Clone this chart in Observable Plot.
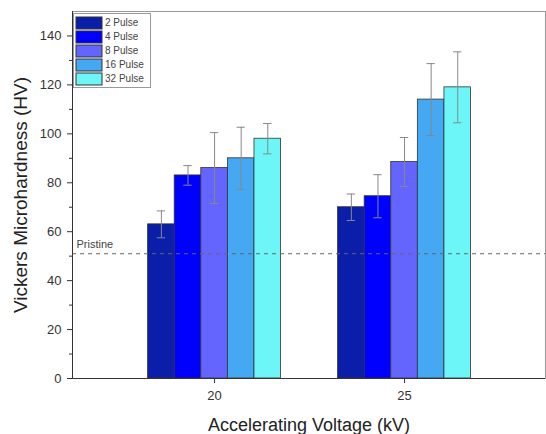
<!DOCTYPE html>
<html>
<head>
<meta charset="utf-8">
<script src="https://cdn.jsdelivr.net/npm/d3@7"></script>
<script src="https://cdn.jsdelivr.net/npm/@observablehq/plot@0.6"></script>
<style>
  html, body { margin: 0; padding: 0; background: white; }
  #wrap { position: relative; width: 546px; height: 434px; }
  #legend { position: absolute; left: 73px; top: 13px; width: 72px; background: white; border: 1px solid #999; padding: 2px 2px 1px 2px; }
  #legend .leg-swatches { margin: 0 !important; font-family: 'Liberation Sans', Arial, sans-serif !important; font-size: 10px !important; color: #444 !important; }
  #legend .leg-swatch { margin: 0 !important; padding: 0 0 1px 0 !important; line-height: 12px !important; height: 13px; display: flex; align-items: center; }
  #legend .leg-swatch svg { margin-right: 3px !important; }
  #legend .leg-swatch svg rect { stroke: #333; stroke-width: 1; }
</style>
</head>
<body>
<div id="wrap"></div>
<script>
const voltages = [20, 25];
const pulses = ["2 Pulse", "4 Pulse", "8 Pulse", "16 Pulse", "32 Pulse"];
const hv20 = [63, 83, 86, 90, 98];
const err20 = [5.5, 4, 14.5, 12.7, 6.2];
const hv25 = [70, 74.5, 88.5, 114, 119];
const err25 = [5.4, 8.8, 10, 14.7, 14.5];
const pristine = 51;
const colors = ["#0a1eaa", "#0000ff", "#6464ff", "#44a8f2", "#6cf6f8"];
const yTicks = [0, 20, 40, 60, 80, 100, 120, 140];
const yMinor = [10, 30, 50, 70, 90, 110, 130];

// grouped-bar layout (in kV units along the x axis)
const barW = 0.7;
const capHalf = 0.11;
const n = pulses.length;

const hvs = [hv20, hv25];
const errs = [err20, err25];
const rows = voltages.flatMap((v, i) => pulses.map((p, j) => {
  const c = v + (j - (n - 1) / 2) * barW;
  return {voltage: v, pulse: p, hv: hvs[i][j], err: errs[i][j], x1: c - barW / 2, x2: c + barW / 2, xc: c};
}));

const chart = Plot.plot({
  width: 546, height: 434,
  marginLeft: 72, marginRight: 1, marginTop: 11, marginBottom: 56,
  style: {fontFamily: "'Liberation Sans', Arial, sans-serif", fontSize: "13px", color: "#333", background: "white"},
  x: {domain: [16.26, 28.71]},
  y: {domain: [0, 150]},
  color: {domain: pulses, range: colors},
  marks: [
    Plot.frame({stroke: "#999"}),
    Plot.rectY(rows, {x1: "x1", x2: "x2", y: "hv", fill: "pulse", stroke: "#333", strokeWidth: 0.8}),
    Plot.ruleY([pristine], {stroke: "#666", strokeDasharray: "4,4"}),
    Plot.text(["Pristine"], {y: [pristine], text: d => d, frameAnchor: "left", dx: 4, dy: -9, textAnchor: "start", fontSize: 11, fill: "#444"}),
    Plot.ruleX(rows, {x: "xc", y1: d => d.hv - d.err, y2: d => d.hv + d.err, stroke: "#888"}),
    Plot.ruleY(rows, {y: d => d.hv + d.err, x1: d => d.xc - capHalf, x2: d => d.xc + capHalf, stroke: "#888"}),
    Plot.ruleY(rows, {y: d => d.hv - d.err, x1: d => d.xc - capHalf, x2: d => d.xc + capHalf, stroke: "#888"}),
    Plot.axisY({ticks: yTicks, tickSize: 5, tickPadding: 6, label: null}),
    Plot.axisY({ticks: yMinor, tickSize: 3, tickFormat: () => "", label: null}),
    Plot.frame({anchor: "left", stroke: "#333"}),
    Plot.ruleY([0], {stroke: "#333"}),
    Plot.axisX({ticks: voltages, tickSize: 5, tickPadding: 7, label: null}),
    Plot.text(["Accelerating Voltage (kV)"], {text: d => d, frameAnchor: "bottom", dy: 47, lineAnchor: "middle", textAnchor: "middle", fontSize: 18, fill: "#222"}),
    Plot.text(["Vickers Microhardness (HV)"], {text: d => d, frameAnchor: "left", dx: -52, rotate: -90, textAnchor: "middle", lineAnchor: "middle", fontSize: 19, fill: "#222"})
  ]
});

const wrap = document.getElementById("wrap");
wrap.appendChild(chart);

const legend = Plot.legend({color: {domain: pulses, range: colors}, columns: 1, swatchWidth: 26, swatchHeight: 12, className: "leg"});
const box = document.createElement("div");
box.id = "legend";
box.appendChild(legend);
wrap.appendChild(box);
</script>
</body>
</html>
